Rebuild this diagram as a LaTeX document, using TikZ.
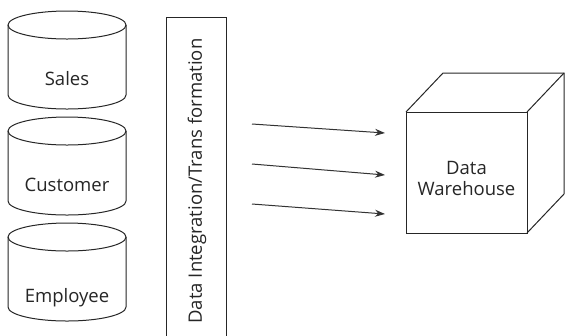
\documentclass[tikz,border=0pt]{standalone}
\usepackage{fontspec}
\setmainfont{Open Sans}
\usetikzlibrary{arrows.meta}
\tikzset{
  outline/.style={draw=black!85, line width=1bp},
  label/.style={font=\fontsize{18.5bp}{21bp}\selectfont, text=black!85, inner sep=0pt},
  flow/.style={draw=black!80, line width=1bp, -{Stealth[length=10bp,width=7bp]}},
  dbcyl/.pic={
    \draw[outline, fill=white] (-59,0) -- (-59,70) arc[start angle=180, end angle=0, x radius=59, y radius=14] -- (59,0);
    \draw[outline] (0,0) ellipse[x radius=59, y radius=14];
  }
}
\begin{document}
\begin{tikzpicture}[x=1bp, y=-1bp]
  \useasboundingbox (0,0) rectangle (565,335);

  % source databases
  \pic at (67,25) {dbcyl};
  \pic at (67,131) {dbcyl};
  \pic at (67,237) {dbcyl};
  \node[label, anchor=base] (sales) at (67,85) {Sales};
  \node[label, anchor=base] (customer) at (67,191) {Customer};
  \node[label, anchor=base] (employee) at (67,302) {Employee};

  % integration stage
  \draw[outline] (166,345) -- (166,17) -- (226,17) -- (226,345);
  \node[label, rotate=90] (etl) at (197,181) {Data Integration/Trans formation};

  % warehouse cube
  \draw[outline] (406,112) rectangle (527,233);
  \draw[outline] (406,112) -- (443,73) -- (564,73) -- (564,194) -- (527,233);
  \draw[outline] (527,112) -- (564,73);
  \node[label, align=center] (dw) at (466.5,178) {Data\\Warehouse};

  % loading arrows
  \coordinate (a1s) at (252,124); \coordinate (a1e) at (385,133);
  \coordinate (a2s) at (252,164); \coordinate (a2e) at (385,175);
  \coordinate (a3s) at (252,204); \coordinate (a3e) at (385,214);
  \draw[flow] (a1s) -- (a1e);
  \draw[flow] (a2s) -- (a2e);
  \draw[flow] (a3s) -- (a3e);
\end{tikzpicture}
\end{document}
